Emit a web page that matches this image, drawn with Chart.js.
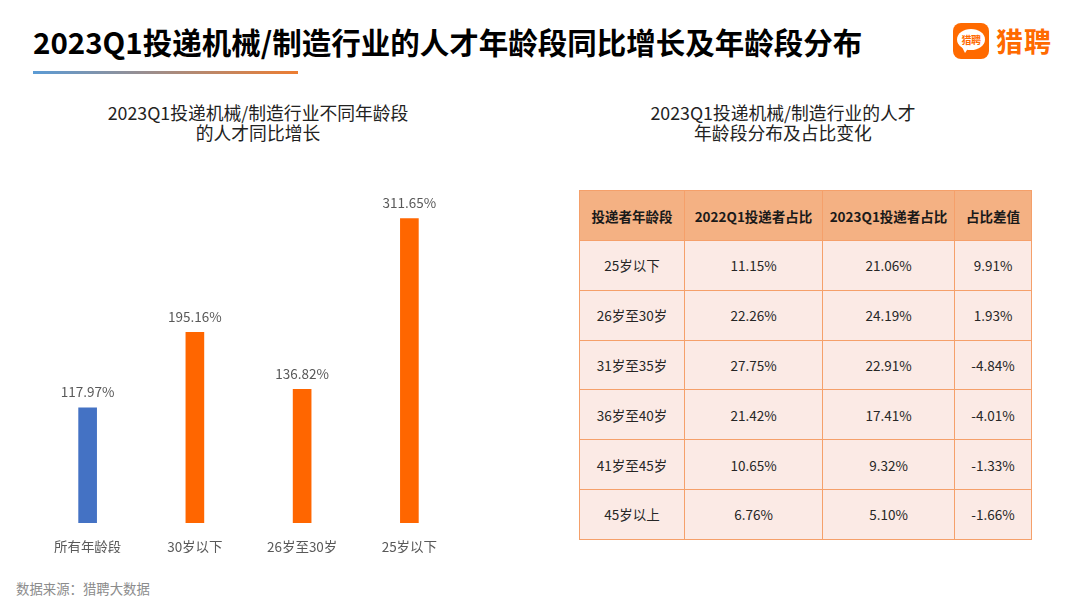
<!DOCTYPE html>
<html>
<head>
<meta charset="utf-8">
<script src="https://cdn.jsdelivr.net/npm/chart.js@4/dist/chart.umd.min.js"></script>
<style>
  html, body { margin: 0; padding: 0; background: #fff; }
  body { width: 1080px; height: 608px; position: relative; overflow: hidden;
         font-family: "Noto Sans CJK SC", "Noto Sans", sans-serif; }
  .title { position: absolute; left: 33px; top: 19px; font-size: 29.5px; font-weight: bold;
           color: #000; white-space: nowrap; line-height: 44px; }
  .underline { position: absolute; left: 33px; top: 71px; width: 265px; height: 2.5px;
               background: linear-gradient(to right, #5B9BD5, #ED7D31); }
  .logo-box { position: absolute; left: 953px; top: 23px; width: 36px; height: 36px;
              background: #FF6A00; border-radius: 8px; }
  .bubble { position: absolute; left: 4px; top: 6px; width: 28px; height: 21px; background: #fff;
            border-radius: 50%; font-size: 10px; font-weight: bold; color: #FF6A00;
            text-align: center; line-height: 21px; letter-spacing: -0.5px; }
  .tail { position: absolute; left: 9px; top: 24px; width: 0; height: 0;
          border-left: 3px solid transparent; border-right: 4px solid transparent;
          border-top: 6px solid #fff; }
  .logo-text { position: absolute; left: 996px; top: 22px; font-size: 27px; font-weight: bold;
               color: #FF6A00; line-height: 38px; letter-spacing: 1px; }
  .sub { position: absolute; font-size: 17.8px; color: #222; text-align: center; line-height: 20px; }
  #chartBox { position: absolute; left: 34px; top: 150px; width: 429px; height: 403px; }
  table { position: absolute; left: 579px; top: 190px; border-collapse: collapse; table-layout: fixed;
          width: 452px; font-size: 13.5px; color: #262626; }
  td, th { border: 1.5px solid #F5A06A; text-align: center; padding: 0; }
  th { background: #F4B183; font-weight: bold; height: 49px; color: #1a1a1a; }
  td { background: #FBEAE5; height: 48.8px; }
  .source { position: absolute; left: 16px; top: 578px; font-size: 13.4px; color: #8c8c8c; }
</style>
</head>
<body>
<div class="title">2023Q1投递机械/制造行业的人才年龄段同比增长及年龄段分布</div>
<div class="underline"></div>
<div class="logo-box"><div class="bubble">猎聘</div><div class="tail"></div></div>
<div class="logo-text">猎聘</div>

<div class="sub" style="left:58px; top:102px; width:400px;">2023Q1投递机械/制造行业不同年龄段<br>的人才同比增长</div>
<div class="sub" style="left:583px; top:102px; width:400px;">2023Q1投递机械/制造行业的人才<br>年龄段分布及占比变化</div>

<div id="chartBox"><canvas id="growth"></canvas></div>

<table id="dist"></table>

<div class="source">数据来源：猎聘大数据</div>

<script>
// left chart: year-on-year growth by age group
const categories = ['所有年龄段', '30岁以下', '26岁至30岁', '25岁以下'];
const growth = [117.97, 195.16, 136.82, 311.65];
const barColors = ['#4472C4', '#FF6600', '#FF6600', '#FF6600'];

// right table: share of applicants by age group
const tableHeader = ['投递者年龄段', '2022Q1投递者占比', '2023Q1投递者占比', '占比差值'];
const ageGroups = ['25岁以下', '26岁至30岁', '31岁至35岁', '36岁至40岁', '41岁至45岁', '45岁以上'];
const share2022 = ['11.15%', '22.26%', '27.75%', '21.42%', '10.65%', '6.76%'];
const share2023 = ['21.06%', '24.19%', '22.91%', '17.41%', '9.32%', '5.10%'];
const shareDiff = ['9.91%', '1.93%', '-4.84%', '-4.01%', '-1.33%', '-1.66%'];

const colWidths = [105, 138, 132, 77];
let html = '<colgroup>';
colWidths.forEach(w => { html += '<col style="width:' + w + 'px">'; });
html += '</colgroup><tr>';
tableHeader.forEach(h => { html += '<th>' + h + '</th>'; });
html += '</tr>';
for (let i = 0; i < ageGroups.length; i++) {
    html += '<tr><td>' + ageGroups[i] + '</td><td>' + share2022[i] + '</td><td>' +
        share2023[i] + '</td><td>' + shareDiff[i] + '</td></tr>';
}
document.getElementById('dist').innerHTML = html;

const valueLabels = {
    id: 'valueLabels',
    afterDatasetsDraw(chart) {
        const ctx = chart.ctx;
        const meta = chart.getDatasetMeta(0);
        ctx.save();
        ctx.font = '13.5px "Noto Sans CJK SC", sans-serif';
        ctx.fillStyle = '#595959';
        ctx.textAlign = 'center';
        ctx.textBaseline = 'bottom';
        meta.data.forEach((bar, i) => {
            ctx.fillText(growth[i].toFixed(2) + '%', bar.x, bar.y - 9);
        });
        ctx.restore();
    }
};

new Chart(document.getElementById('growth'), {
    type: 'bar',
    data: {
        labels: categories,
        datasets: [{
            data: growth,
            backgroundColor: barColors,
            barThickness: 18
        }]
    },
    options: {
        responsive: true,
        maintainAspectRatio: false,
        animation: false,
        layout: { padding: { top: 31, left: 0, right: 0, bottom: 0 } },
        plugins: { legend: { display: false }, tooltip: { enabled: false } },
        scales: {
            y: { display: false, min: 0, max: 350 },
            x: {
                grid: { display: false, drawTicks: false },
                border: { display: false },
                ticks: {
                    color: '#595959',
                    padding: 16,
                    font: { size: 13.5, family: '"Noto Sans CJK SC", sans-serif' }
                },
                afterFit(scale) { scale.height = 30; }
            }
        }
    },
    plugins: [valueLabels]
});
</script>
</body>
</html>
